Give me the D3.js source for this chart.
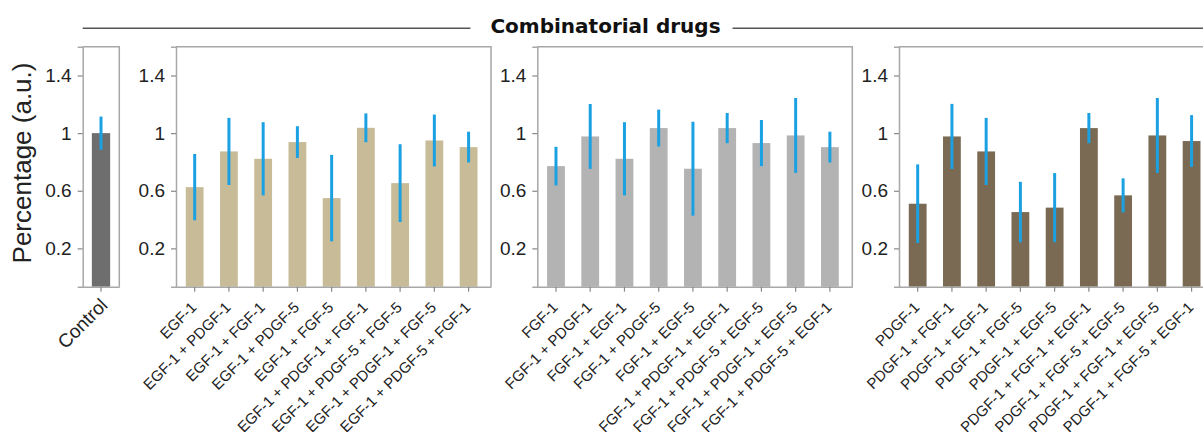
<!DOCTYPE html>
<html>
<head>
<meta charset="utf-8">
<script src="https://cdn.jsdelivr.net/npm/d3@7"></script>
<style>
  body { margin: 0; background: #fff; }
  svg { display: block; }
</style>
</head>
<body>
<div id="chart"></div>
<script>
// values
const controlLabels = ["Control"];
const controlValues = [1.0];
const controlErrors = [0.115];

const egfLabels = ["EGF-1", "EGF-1 + PDGF-1", "EGF-1 + FGF-1", "EGF-1 + PDGF-5", "EGF-1 + FGF-5",
  "EGF-1 + PDGF-1 + FGF-1", "EGF-1 + PDGF-5 + FGF-5", "EGF-1 + PDGF-1 + FGF-5", "EGF-1 + PDGF-5 + FGF-1"];
const egfValues = [0.625, 0.873, 0.822, 0.938, 0.549, 1.037, 0.653, 0.949, 0.903];
const egfErrors = [0.23, 0.233, 0.254, 0.11, 0.30, 0.10, 0.27, 0.18, 0.107];

const fgfLabels = ["FGF-1", "FGF-1 + PDGF-1", "FGF-1 + EGF-1", "FGF-1 + PDGF-5", "FGF-1 + EGF-5",
  "FGF-1 + PDGF-1 + EGF-1", "FGF-1 + PDGF-5 + EGF-5", "FGF-1 + PDGF-1 + EGF-5", "FGF-1 + PDGF-5 + EGF-1"];
const fgfValues = [0.771, 0.977, 0.822, 1.035, 0.753, 1.035, 0.931, 0.984, 0.903];
const fgfErrors = [0.134, 0.225, 0.254, 0.128, 0.326, 0.105, 0.16, 0.26, 0.107];

const pdgfLabels = ["PDGF-1", "PDGF-1 + FGF-1", "PDGF-1 + EGF-1", "PDGF-1 + FGF-5", "PDGF-1 + EGF-5",
  "PDGF-1 + FGF-1 + EGF-1", "PDGF-1 + FGF-5 + EGF-5", "PDGF-1 + FGF-1 + EGF-5", "PDGF-1 + FGF-5 + EGF-1"];
const pdgfValues = [0.510, 0.977, 0.873, 0.452, 0.483, 1.035, 0.568, 0.984, 0.945];
const pdgfErrors = [0.273, 0.226, 0.233, 0.21, 0.24, 0.105, 0.118, 0.26, 0.18];

const yTicks = [0.2, 0.6, 1, 1.4];

const width = 1203, height = 432;
const plotTop = 46.7, plotBottom = 286.7;
const errColor = "#1ba1e2";
const textColor = "#222";
const frameColor = "#a8a8a8";

const panels = [
  { labels: controlLabels, values: controlValues, errors: controlErrors, color: "#6e6e6e",
    x: 82.7, w: 36.6, outer: 0.26, align: 0.5, big: true },
  { labels: egfLabels, values: egfValues, errors: egfErrors, color: "#c8bc98",
    x: 176, w: 315, outer: 0.34, align: 0.42 },
  { labels: fgfLabels, values: fgfValues, errors: fgfErrors, color: "#b3b3b3",
    x: 537.3, w: 315, outer: 0.34, align: 0.42 },
  { labels: pdgfLabels, values: pdgfValues, errors: pdgfErrors, color: "#7a6a54",
    x: 899, w: 315, outer: 0.34, align: 0.42 }
];

const svg = d3.select("#chart").append("svg")
  .attr("width", width)
  .attr("height", height)
  .style("font-family", "'Liberation Sans', Arial, sans-serif");

const y = d3.scaleLinear().domain([-0.066, 1.6]).range([plotBottom, plotTop]);

panels.forEach(p => {
  const x = d3.scaleBand()
    .domain(p.labels)
    .range([p.x, p.x + p.w])
    .paddingInner(0.48)
    .paddingOuter(p.outer)
    .align(p.align);

  const g = svg.append("g");

  // frame: top and right sides
  g.append("path")
    .attr("fill", "none")
    .attr("stroke", frameColor)
    .attr("stroke-width", 1.5)
    .attr("d", `M${p.x},${plotTop}H${p.x + p.w}V${plotBottom}`);

  g.selectAll(".bar")
    .data(p.values)
    .join("rect")
    .attr("x", (d, i) => x(p.labels[i]))
    .attr("width", x.bandwidth())
    .attr("y", d => y(d))
    .attr("height", d => y.range()[0] - y(d))
    .attr("fill", p.color);

  g.selectAll(".err")
    .data(p.values)
    .join("line")
    .attr("x1", (d, i) => x(p.labels[i]) + x.bandwidth() / 2)
    .attr("x2", (d, i) => x(p.labels[i]) + x.bandwidth() / 2)
    .attr("y1", (d, i) => y(d + p.errors[i]))
    .attr("y2", (d, i) => y(d - p.errors[i]))
    .attr("stroke", errColor)
    .attr("stroke-width", 3);

  const yAxis = g.append("g")
    .attr("transform", `translate(${p.x},0)`)
    .call(d3.axisLeft(y).tickValues(yTicks).tickFormat(d3.format("~g")).tickSize(5).tickPadding(6));

  const xAxis = g.append("g")
    .attr("transform", `translate(0,${plotBottom})`)
    .call(d3.axisBottom(x).tickSize(5).tickSizeOuter(0));

  [yAxis, xAxis].forEach(a => {
    a.select(".domain").attr("stroke", frameColor).attr("stroke-width", 1.5);
    a.selectAll(".tick line").attr("stroke", "#888").attr("stroke-width", 1.2);
  });
  yAxis.selectAll("text")
    .attr("fill", textColor)
    .style("font-size", "19px");

  const fs = p.big ? 19 : 15;
  xAxis.selectAll("text")
    .attr("fill", textColor)
    .style("font-size", fs + "px")
    .attr("text-anchor", "end")
    .attr("x", 0).attr("y", 0)
    .attr("dy", "0.35em")
    .attr("transform", p.big ? "translate(3,15) rotate(-45)" : "translate(-1,18) rotate(-45)");
});

// y axis title
svg.append("text")
  .attr("transform", `translate(31,163) rotate(-90)`)
  .attr("text-anchor", "middle")
  .attr("fill", textColor)
  .style("font-size", "26px")
  .text("Percentage (a.u.)");

// header with rule lines
const header = svg.append("text")
  .attr("x", 605.5)
  .attr("y", 33)
  .attr("text-anchor", "middle")
  .attr("fill", "#111")
  .style("font-family", "'DejaVu Sans', sans-serif")
  .style("font-weight", "bold")
  .style("font-size", "20px")
  .text("Combinatorial drugs");

const hb = header.node().getBBox();
svg.append("line")
  .attr("x1", 82.7).attr("x2", hb.x - 20)
  .attr("y1", 28.3).attr("y2", 28.3)
  .attr("stroke", "#555").attr("stroke-width", 1.5);
svg.append("line")
  .attr("x1", hb.x + hb.width + 12).attr("x2", 1214)
  .attr("y1", 28.3).attr("y2", 28.3)
  .attr("stroke", "#555").attr("stroke-width", 1.5);
</script>
</body>
</html>
